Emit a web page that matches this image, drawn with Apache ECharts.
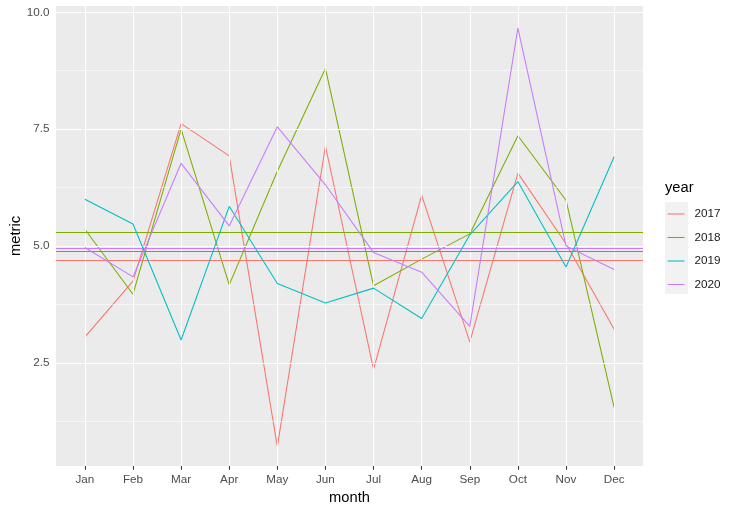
<!DOCTYPE html>
<html>
<head>
<meta charset="utf-8">
<script src="https://cdn.jsdelivr.net/npm/echarts@6/dist/echarts.min.js"></script>
<style>
html,body{margin:0;padding:0;background:#fff;}
#c{width:738px;height:512px;}
</style>
</head>
<body>
<div id="c"></div>
<script>
var months = ['Jan','Feb','Mar','Apr','May','Jun','Jul','Aug','Sep','Oct','Nov','Dec'];
var years = ['2017','2018','2019','2020'];
var v2017 = [3.05, 4.25, 7.62, 6.93, 0.71, 7.14, 2.36, 6.09, 2.95, 6.56, 5.05, 3.22];
var v2018 = [5.36, 3.97, 7.50, 4.17, 6.60, 8.80, 4.15, 4.72, 5.26, 7.36, 5.98, 1.55];
var v2019 = [6.00, 5.47, 2.99, 5.85, 4.20, 3.78, 4.10, 3.45, 5.24, 6.38, 4.55, 6.91];
var v2020 = [4.97, 4.34, 6.77, 5.43, 7.55, 6.31, 4.86, 4.44, 3.28, 9.66, 5.00, 4.50];
var hlines = [4.70, 5.29, 4.89, 4.96];
var yTicks = [2.5, 5.0, 7.5, 10.0];
var yMinor = [1.25, 3.75, 6.25, 8.75];
var colors = ['#F8766D', '#7CAE00', '#00BFC4', '#C77CFF'];

var FONT = 'Liberation Sans, Arial, sans-serif';
var allVals = [v2017, v2018, v2019, v2020];
var xIdx = months.map(function(m, i){ return i; });

var chart = echarts.init(document.getElementById('c'), null, {renderer:'canvas'});

var gridData = [];
yMinor.forEach(function(v){ gridData.push({yAxis: v, lineStyle:{color:'#ffffff', width:0.55, type:'solid'}}); });
yTicks.forEach(function(v){ gridData.push({yAxis: v, lineStyle:{color:'#ffffff', width:1.07, type:'solid'}}); });
xIdx.forEach(function(v){ gridData.push({xAxis: v, lineStyle:{color:'#ffffff', width:1.07, type:'solid'}}); });

var series = [{
  name: 'grid',
  type: 'line',
  data: [],
  z: 1,
  silent: true,
  markLine: {
    symbol: 'none', silent: true, animation: false,
    label: {show: false},
    data: gridData
  }
}];

years.forEach(function(y, k){
  series.push({
    name: y,
    type: 'line',
    data: allVals[k].map(function(v, i){ return [i, v]; }),
    showSymbol: false,
    symbol: 'none',
    z: 3 + k,
    lineStyle: {color: colors[k], width: 1.07},
    itemStyle: {color: colors[k]},
    markLine: {
      symbol: 'none', silent: true, animation: false,
      label: {show: false},
      lineStyle: {color: colors[k], width: 1.07, type: 'solid'},
      data: [{yAxis: hlines[k]}]
    }
  });
});

var option = {
  animation: false,
  backgroundColor: '#ffffff',
  textStyle: {fontFamily: FONT},
  title: {
    text: 'year', left: 665, top: 180, padding: 0,
    textStyle: {fontFamily: FONT, fontSize: 14.7, fontWeight: 'normal', color: '#000000'}
  },
  legend: {
    data: years,
    orient: 'vertical',
    left: 667, top: 208, padding: 0,
    itemWidth: 17, itemHeight: 14, itemGap: 11.5,
    itemStyle: {opacity: 0, color: 'rgba(0,0,0,0)', borderWidth: 0},
    lineStyle: {width: 1.07, opacity: 1},
    textStyle: {fontFamily: FONT, fontSize: 11.7, color: '#1a1a1a', padding: [0,0,0,5]},
    selectedMode: false
  },
  graphic: [{
    type: 'rect', left: 665, top: 202, z: -1,
    shape: {width: 23, height: 92},
    style: {fill: '#F2F2F2'}
  }],
  grid: {
    left: 56, right: 95, top: 6, bottom: 46,
    containLabel: false, outerBoundsMode: 'none',
    show: true, backgroundColor: '#EBEBEB', borderWidth: 0
  },
  xAxis: {
    type: 'value', min: -0.6, max: 11.6,
    name: 'month', nameLocation: 'middle', nameGap: 24, nameMoveOverlap: false,
    nameTextStyle: {fontFamily: FONT, fontSize: 14.7, color: '#000000'},
    axisLine: {show: false},
    axisTick: {show: true, length: 3.7, customValues: xIdx, lineStyle: {color: '#333333', width: 1.07}},
    axisLabel: {customValues: xIdx, margin: 8, fontFamily: FONT, fontSize: 11.7, color: '#4D4D4D',
      formatter: function(v){ return months[Math.round(v)] || ''; }},
    splitLine: {show: false}
  },
  yAxis: {
    type: 'value', min: 0.295, max: 10.135,
    name: 'metric', nameLocation: 'middle', nameGap: 33, nameRotate: 90, nameMoveOverlap: false,
    nameTextStyle: {fontFamily: FONT, fontSize: 14.7, color: '#000000'},
    axisLine: {show: false},
    axisTick: {show: true, length: 3.7, customValues: yTicks, lineStyle: {color: '#333333', width: 1.07}},
    axisLabel: {customValues: yTicks, margin: 6.6, fontFamily: FONT, fontSize: 11.7, color: '#4D4D4D',
      formatter: function(v){ return v.toFixed(1); }},
    splitLine: {show: false}
  },
  series: series
};
chart.setOption(option);
</script>
</body>
</html>
